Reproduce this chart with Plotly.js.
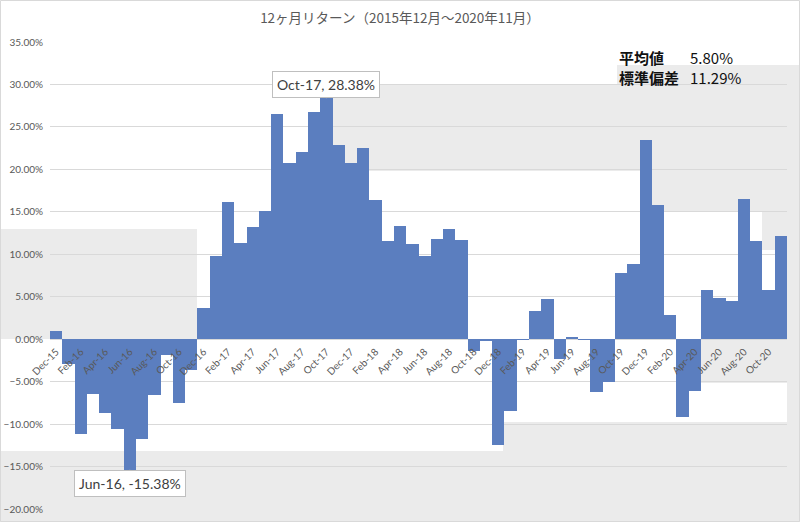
<!DOCTYPE html>
<html>
<head>
<meta charset="utf-8">
<script src="https://cdn.plot.ly/plotly-3.0.1.min.js"></script>
<style>html,body{margin:0;padding:0;background:#fff;}#chart{width:800px;height:522px;}</style>
</head>
<body>
<div id="chart"></div>
<script>
// ---- data ----
const months = [
  'Dec-15','Jan-16','Feb-16','Mar-16','Apr-16','May-16','Jun-16','Jul-16','Aug-16','Sep-16','Oct-16','Nov-16',
  'Dec-16','Jan-17','Feb-17','Mar-17','Apr-17','May-17','Jun-17','Jul-17','Aug-17','Sep-17','Oct-17','Nov-17',
  'Dec-17','Jan-18','Feb-18','Mar-18','Apr-18','May-18','Jun-18','Jul-18','Aug-18','Sep-18','Oct-18','Nov-18',
  'Dec-18','Jan-19','Feb-19','Mar-19','Apr-19','May-19','Jun-19','Jul-19','Aug-19','Sep-19','Oct-19','Nov-19',
  'Dec-19','Jan-20','Feb-20','Mar-20','Apr-20','May-20','Jun-20','Jul-20','Aug-20','Sep-20','Oct-20','Nov-20'
];
const returns = [
  0.95, -2.9, -11.2, -6.4, -8.7, -10.6, -15.38, -11.7, -6.6, -1.9, -7.5, -3.6,
  3.7, 9.8, 16.1, 11.3, 13.2, 15.1, 26.55, 20.8, 22.1, 26.7, 28.38, 22.9,
  20.7, 22.5, 16.4, 11.6, 13.3, 11.2, 9.8, 11.8, 13.0, 11.7, -1.4, -0.2,
  -12.5, -8.5, -0.15, 3.3, 4.7, -2.35, 0.2, -0.05, -6.2, -5.1, 7.85, 8.9,
  23.4, 15.8, 2.9, -9.2, -6.1, 5.85, 4.8, 4.5, 16.55, 11.6, 5.85, 12.15
];
const tickLabels = [
  'Dec-15','Feb-16','Apr-16','Jun-16','Aug-16','Oct-16','Dec-16','Feb-17','Apr-17','Jun-17',
  'Aug-17','Oct-17','Dec-17','Feb-18','Apr-18','Jun-18','Aug-18','Oct-18','Dec-18','Feb-19',
  'Apr-19','Jun-19','Aug-19','Oct-19','Dec-19','Feb-20','Apr-20','Jun-20','Aug-20','Oct-20'
];
const chartTitle = '12ヶ月リターン（2015年12月～2020年11月）';
const statLabels = ['平均値', '標準偏差'];
const statValues = ['5.80%', '11.29%'];
const calloutMonths = ['Oct-17', 'Jun-16'];

// ---- layout helpers ----
const W = 800, H = 522, ML = 50, MR = 13, MT = 42, MB = 13;
const PW = W - ML - MR, PH = H - MT - MB;
const fx = p => (p - ML) / PW;
const fy = p => 1 - (p - MT) / PH;
function rect(x0, y0, x1, y1, color) {
  return {type: 'rect', xref: 'paper', yref: 'paper', layer: 'below',
          x0: fx(x0), x1: fx(x1), y0: fy(y1), y1: fy(y0),
          fillcolor: color, line: {width: 0}};
}
const grey = '#ebebeb';
const shapes = [
  rect(333, 84, 787, 171, grey),
  rect(617, 65, 800, 84, grey),
  rect(650, 171, 800, 212, grey),
  rect(762, 212, 800, 250, grey),
  rect(787, 65, 800, 522, grey),
  rect(0, 229, 197, 339, grey),
  rect(0, 451, 800, 522, grey),
  rect(503, 422, 800, 451, grey),
  rect(700, 339, 800, 383, grey),
  {type: 'rect', xref: 'paper', yref: 'paper', layer: 'above',
   x0: fx(0.5), x1: fx(W - 0.5), y0: fy(H - 0.5), y1: fy(0.5),
   fillcolor: 'rgba(0,0,0,0)', line: {width: 1, color: '#d9d9d9'}}
];

const trace = {
  type: 'bar', x: months, y: returns,
  marker: {color: '#5b7ebf', line: {width: 0}},
  hoverinfo: 'x+y'
};

const annotations = [];
// callouts
const calloutOffsets = [-14, 14];
calloutMonths.forEach((m, k) => {
  const v = returns[months.indexOf(m)];
  annotations.push({
    x: m, y: v, xref: 'x', yref: 'y',
    text: m + ', ' + v.toFixed(2) + '%',
    showarrow: true, arrowhead: 0, arrowwidth: 1, arrowcolor: '#bfbfbf',
    ax: 0, ay: calloutOffsets[k],
    bgcolor: '#ffffff', bordercolor: '#bfbfbf', borderwidth: 1, borderpad: 4,
    font: {family: 'Lato, "Open Sans", sans-serif', size: 14, color: '#404040'}
  });
});
// stats
const statY = [57, 77];
statLabels.forEach((s, k) => {
  annotations.push({
    xref: 'paper', yref: 'paper', x: fx(617), y: fy(statY[k]),
    xanchor: 'left', yanchor: 'middle', showarrow: false, text: s,
    font: {family: '"Noto Sans CJK JP", sans-serif', size: 15, color: '#111111', weight: 'bold'}
  });
  annotations.push({
    xref: 'paper', yref: 'paper', x: fx(688), y: fy(statY[k]),
    xanchor: 'left', yanchor: 'middle', showarrow: false, text: statValues[k],
    font: {family: '"Noto Sans CJK JP", sans-serif', size: 15, color: '#111111'}
  });
});

const layout = {
  width: W, height: H,
  margin: {l: ML, r: MR, t: MT, b: MB, pad: 0},
  paper_bgcolor: '#ffffff',
  plot_bgcolor: 'rgba(0,0,0,0)',
  showlegend: false,
  bargap: 0,
  title: {
    text: chartTitle, xref: 'container', yref: 'container', x: 0.5, y: 1 - 18 / H,
    xanchor: 'center', yanchor: 'middle',
    font: {family: '"Noto Sans CJK JP", sans-serif', size: 13.5, color: '#595959'}
  },
  xaxis: {
    type: 'category', range: [-0.5, months.length - 0.5],
    anchor: 'free', position: 20 / 55,
    tickmode: 'array', tickvals: tickLabels, ticktext: tickLabels,
    tickangle: -45, ticks: '', showgrid: false, showline: false, zeroline: false,
    ticklabelstandoff: 4,
    tickfont: {family: 'Lato, "Open Sans", sans-serif', size: 10, color: '#595959'}
  },
  yaxis: {
    range: [-20, 35], dtick: 5, tick0: 0,
    tickformat: '.2f', ticksuffix: '%',
    showgrid: true, gridcolor: '#d9d9d9', gridwidth: 1,
    zeroline: true, zerolinecolor: '#d9d9d9', zerolinewidth: 1,
    showline: false, ticks: '', ticklabelstandoff: 6,
    tickfont: {family: 'Lato, "Open Sans", sans-serif', size: 10, color: '#595959'}
  },
  shapes: shapes,
  annotations: annotations
};

Plotly.newPlot('chart', [trace], layout, {displayModeBar: false, staticPlot: true});
</script>
</body>
</html>
